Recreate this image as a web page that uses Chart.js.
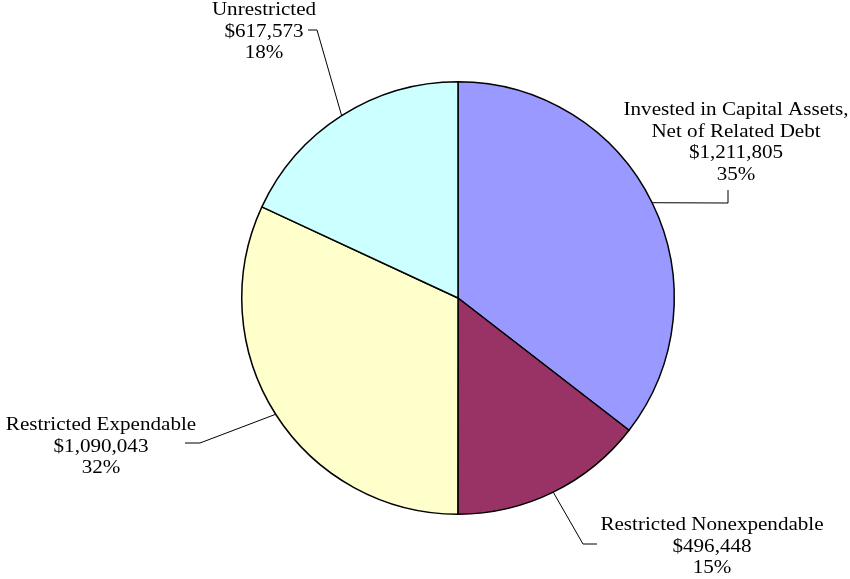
<!DOCTYPE html>
<html>
<head>
<meta charset="utf-8">
<script src="https://cdn.jsdelivr.net/npm/chart.js@4.4.1/dist/chart.umd.min.js"></script>
<style>
    html, body { margin: 0; padding: 0; background: #fff; }
    #wrap { width: 850px; height: 579px; position: relative; }
</style>
</head>
<body>
<div id="wrap"><canvas id="netPie"></canvas></div>
<script>
// ========== NET POSITION PIE ==========
const categories = ['Invested in Capital Assets,\nNet of Related Debt', 'Restricted Nonexpendable', 'Restricted Expendable', 'Unrestricted'];
const amounts = [1211805, 496448, 1090043, 617573];
const percentLabels = ['35%', '15%', '32%', '18%'];
const sliceColors = ['#9999FF', '#993366', '#FFFFCC', '#CCFFFF'];

// where each label sits: elbow of the leader, end of the leader, text centre and first line
const labelSpots = [
    { elbow: [728, 203], end: [728, 190], x: 736, y: 110 },
    { elbow: [583, 544], end: [597, 544], x: 712, y: 525 },
    { elbow: [200, 443], end: [185, 443], x: 101, y: 425 },
    { elbow: [317, 30], end: [308, 30], x: 264, y: 10 }
];
const textStretch = 1.11; // serif labels are drawn a little wide

function money(v) {
    return '$' + v.toLocaleString('en-US');
}

const leaderLabels = {
    id: 'leaderLabels',
    afterDatasetsDraw(chart) {
        const ctx = chart.ctx;
        const arcs = chart.getDatasetMeta(0).data;
        ctx.save();
        ctx.strokeStyle = '#000';
        ctx.lineWidth = 1;
        ctx.fillStyle = '#000';
        ctx.font = '19px "Liberation Serif", "Times New Roman", serif';
        ctx.textAlign = 'center';
        ctx.textBaseline = 'middle';
        arcs.forEach((arc, i) => {
            const p = arc.getProps(['x', 'y', 'startAngle', 'endAngle', 'outerRadius'], true);
            const mid = (p.startAngle + p.endAngle) / 2;
            const sx = p.x + Math.cos(mid) * p.outerRadius;
            const sy = p.y + Math.sin(mid) * p.outerRadius;
            const spot = labelSpots[i];
            ctx.beginPath();
            ctx.moveTo(sx, sy);
            ctx.lineTo(spot.elbow[0], spot.elbow[1]);
            ctx.lineTo(spot.end[0], spot.end[1]);
            ctx.stroke();

            const lines = categories[i].split('\n').concat([money(amounts[i]), percentLabels[i]]);
            lines.forEach((t, k) => {
                ctx.save();
                ctx.translate(spot.x, spot.y + k * 21.7);
                ctx.scale(textStretch, 1);
                ctx.fillText(t, 0, 0);
                ctx.restore();
            });
        });
        ctx.restore();
    }
};

new Chart(document.getElementById('netPie'), {
    type: 'pie',
    data: {
        labels: categories,
        datasets: [{
            data: amounts,
            backgroundColor: sliceColors,
            borderColor: '#000',
            borderWidth: 1.5
        }]
    },
    options: {
        responsive: true,
        maintainAspectRatio: false,
        animation: false,
        layout: { padding: { left: 241, right: 175, top: 81, bottom: 64 } },
        plugins: {
            legend: { display: false },
            tooltip: { enabled: false }
        }
    },
    plugins: [leaderLabels]
});
</script>
</body>
</html>
